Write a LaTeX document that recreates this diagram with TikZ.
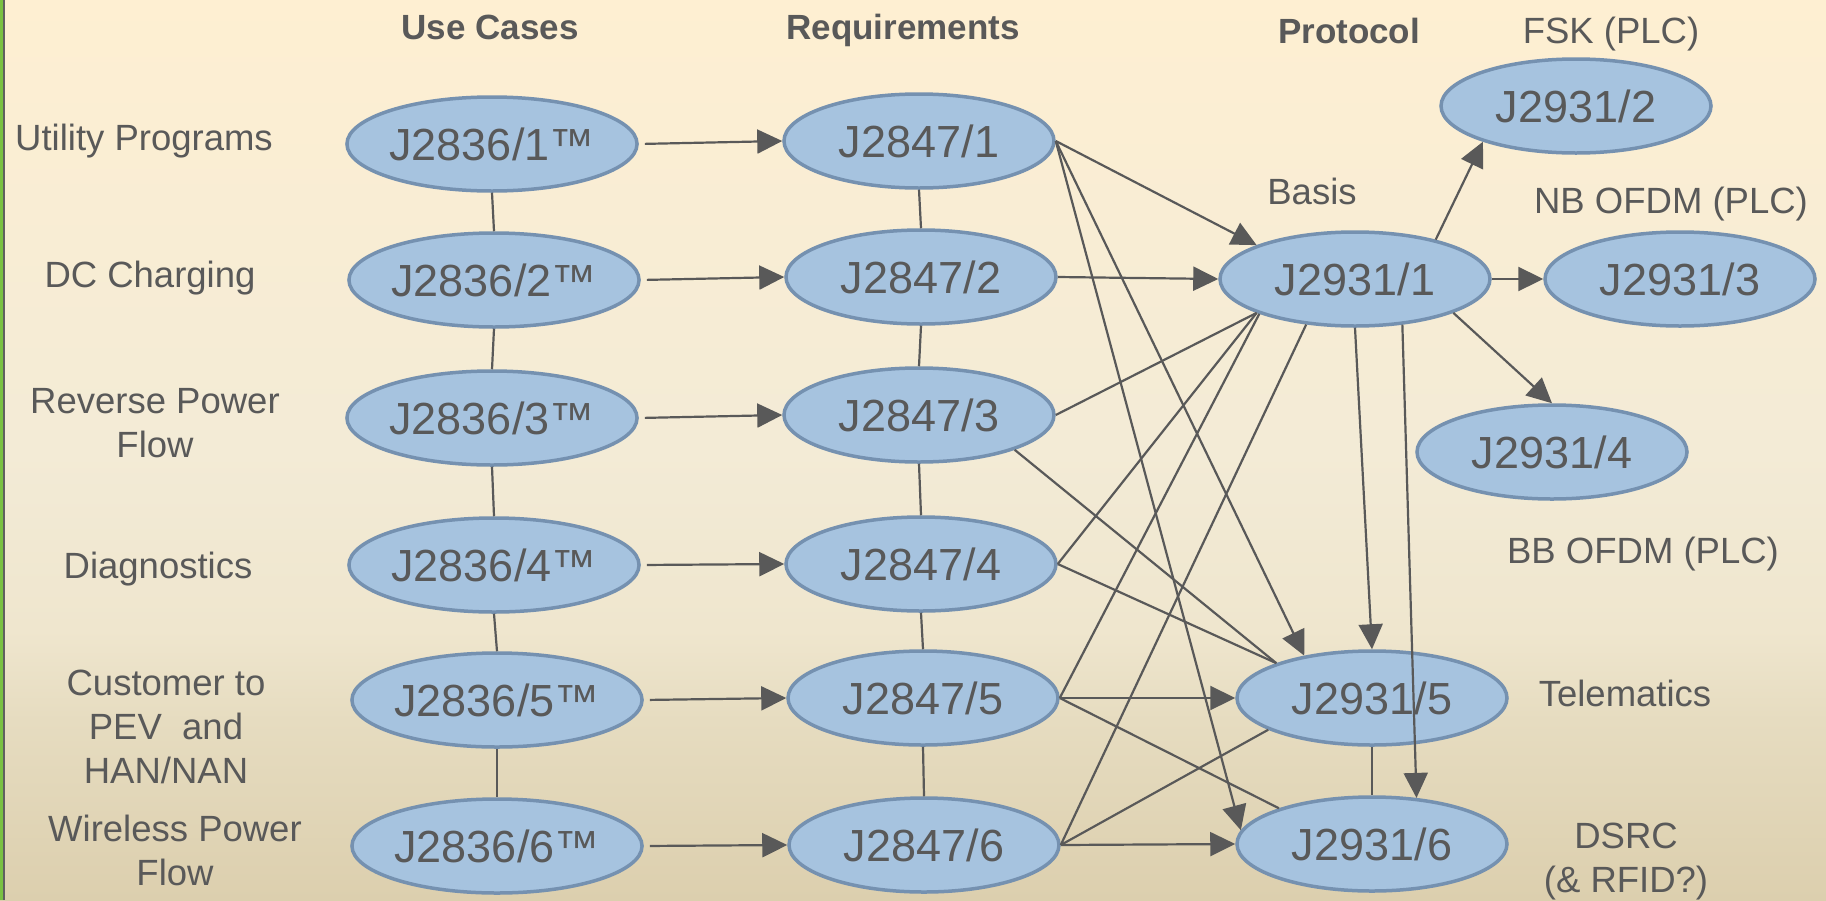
\documentclass[tikz,border=0pt]{standalone}
\usepackage{fontspec}
\setmainfont{Liberation Sans}
\usetikzlibrary{arrows.meta,shapes.geometric}

\definecolor{txt}{HTML}{595959}
\definecolor{ellfill}{HTML}{A6C3DF}
\definecolor{elldraw}{HTML}{7591B0}
\definecolor{wire}{HTML}{595959}
\definecolor{edgegreen}{HTML}{7AC143}
\definecolor{edgegrey}{HTML}{606060}
\definecolor{bgA}{HTML}{DCCFAE}
\definecolor{bgB}{HTML}{E6DCC0}
\definecolor{bgC}{HTML}{EFE6CE}
\definecolor{bgD}{HTML}{F3EBD6}
\definecolor{bgE}{HTML}{FEEFD2}

% cream-to-tan backdrop, light at the top
\pgfdeclareverticalshading{backdrop}{100bp}{color(0bp)=(bgA); color(25bp)=(bgA); color(35bp)=(bgB); color(40bp)=(bgC); color(50bp)=(bgD); color(75bp)=(bgE); color(100bp)=(bgE)}

\begin{document}
\begin{tikzpicture}[x=1pt,y=-1pt,
  std/.style={ellipse, draw=elldraw, line width=3.5pt, fill=ellfill,
    minimum width=270pt, minimum height=94pt, inner sep=0pt,
    text=txt, font=\fontsize{45}{50}\selectfont},
  lbl/.style={text=txt, font=\fontsize{36.5}{44}\selectfont, align=center, inner sep=0pt},
  hdr/.style={text=txt, font=\bfseries\fontsize{35}{42}\selectfont, inner sep=0pt},
  link/.style={draw=wire, line width=2.2pt},
  flow/.style={link, -{Triangle[length=25pt,width=24pt]}},
]
\useasboundingbox (0,0) rectangle (1826,900);
\shade[shading=backdrop] (0,0) rectangle (1826,900);
\fill[edgegreen] (0,0) rectangle (3,900);
\fill[edgegrey] (3,0) rectangle (5,900);

% column headings
\node[hdr, anchor=base] (hUse) at (490,39) {Use Cases};
\node[hdr, anchor=base] (hReq) at (903,39) {Requirements};
\node[hdr, anchor=base] (hPro) at (1349,43) {Protocol};

% use-case descriptions (multi-line ones are placed by their last baseline)
\node[lbl, anchor=base] (lUtil) at (144,150) {Utility Programs};
\node[lbl, anchor=base] (lDC) at (150,287) {DC Charging};
\node[lbl, anchor=base] (lRev) at (155,457) {Reverse Power\\Flow};
\node[lbl, anchor=base] (lDiag) at (158,578) {Diagnostics};
\node[lbl, anchor=base] (lCust) at (166,783) {Customer to\\PEV~~and\\HAN/NAN};
\node[lbl, anchor=base] (lWPT) at (175,885) {Wireless Power\\Flow};

% protocol descriptions
\node[lbl, anchor=base] (lBasis) at (1312,204) {Basis};
\node[lbl, anchor=base] (lFSK) at (1611,43) {FSK (PLC)};
\node[lbl, anchor=base] (lNB) at (1671,213) {NB OFDM (PLC)};
\node[lbl, anchor=base] (lBB) at (1643,563) {BB OFDM (PLC)};
\node[lbl, anchor=base] (lTel) at (1625,706) {Telematics};
\node[lbl, anchor=base] (lDSRC) at (1626,892) {DSRC\\(\& RFID?)};

% J2836 use cases
\node[std] (u1) at (492,144) {J2836/1™};
\node[std] (u2) at (494,280) {J2836/2™};
\node[std] (u3) at (492,418) {J2836/3™};
\node[std] (u4) at (494,565) {J2836/4™};
\node[std] (u5) at (497,700) {J2836/5™};
\node[std] (u6) at (497,846) {J2836/6™};

% J2847 requirements
\node[std] (r1) at (919,141) {J2847/1};
\node[std] (r2) at (921,277) {J2847/2};
\node[std] (r3) at (919,415) {J2847/3};
\node[std] (r4) at (921,564) {J2847/4};
\node[std] (r5) at (923,698) {J2847/5};
\node[std] (r6) at (924,845) {J2847/6};

% J2931 protocols
\node[std] (p1) at (1355,279) {J2931/1};
\node[std] (p2) at (1576,106) {J2931/2};
\node[std] (p3) at (1680,279) {J2931/3};
\node[std] (p4) at (1552,452) {J2931/4};
\node[std] (p5) at (1372,698) {J2931/5};
\node[std] (p6) at (1372,844) {J2931/6};

% column spines
\foreach \a/\b in {u1/u2,u2/u3,u3/u4,u4/u5,u5/u6,r1/r2,r2/r3,r3/r4,r4/r5,r5/r6,p5/p6}
  \draw[link] (\a.south) -- (\b.north);

% use case -> requirement
\foreach \i in {1,...,6}
  \draw[flow, shorten <=6pt] (u\i.east) -- (r\i.west);

% requirement -> protocol
\draw[flow] (r1.east) -- (p1.161);
\draw[flow] (r2.east) -- (p1.west);
\draw[flow] (r1.east) -- (p5.148);
\draw[flow] (r1.east) -- (p6.174);
\draw[link] (r3.-20) -- (p5.160);
\draw[link] (r3.east) -- (p1.199);
\draw[link] (r4.east) -- (p1.199);
\draw[link] (r5.east) -- (p1.200);
\draw[link] (r6.east) -- (p1.223);
\draw[link] (r4.east) -- (p5.160);
\draw[flow] (r5.east) -- (p5.west);
\draw[link] (r5.east) -- (p6.159);
\draw[link] (r6.east) -- (p5.197);
\draw[flow] (r6.east) -- (p6.west);

% basis -> physical layers
\draw[flow] (p1.26) -- (p2.201);
\draw[flow] (p1.east) -- (p3.west);
\draw[flow] (p1.-19) -- (p4.north);
\draw[flow] (p1.south) -- (p5.north);
\draw[flow] (p1.-44) -- (p6.46);
\end{tikzpicture}
\end{document}
